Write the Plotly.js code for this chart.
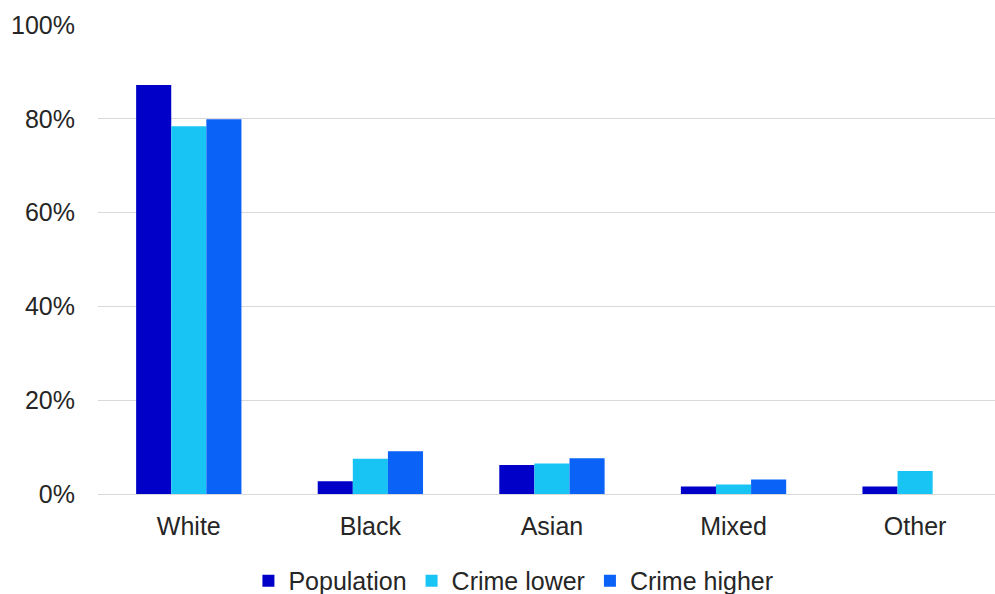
<!DOCTYPE html>
<html>
<head>
<meta charset="utf-8">
<script src="https://cdn.plot.ly/plotly-3.0.1.min.js"></script>
<style>html,body{margin:0;padding:0;background:#fff;}#chart{width:995px;height:594px;}</style>
</head>
<body>
<div id="chart"></div>
<script>
const categories = ["White", "Black", "Asian", "Mixed", "Other"];
const population = [87.2, 2.7, 6.2, 1.6, 1.6];
const crimeLower = [78.4, 7.5, 6.5, 2.0, 4.9];
const crimeHigher = [79.9, 9.1, 7.6, 3.1, 0];
const seriesNames = ["Population", "Crime lower", "Crime higher"];
const seriesColors = ["#0000c8", "#18c4f4", "#0a62f6"];
const yTicks = [0, 20, 40, 60, 80, 100];
const yTickLabels = ["0%", "20%", "40%", "60%", "80%", "100%"];

const values = [population, crimeLower, crimeHigher];
const traces = values.map((v, i) => ({
  type: "bar",
  name: seriesNames[i],
  x: categories,
  y: v,
  marker: {color: seriesColors[i], line: {width: 0}},
  hoverinfo: "x+y+name"
}));

const layout = {
  width: 995, height: 594,
  margin: {l: 98, r: 0, t: 25, b: 100, pad: 0},
  paper_bgcolor: "#ffffff",
  plot_bgcolor: "#ffffff",
  font: {family: "Liberation Sans, Arial, sans-serif", size: 25, color: "#262626"},
  barmode: "group",
  bargap: 0.42,
  bargroupgap: 0,
  showlegend: true,
  legend: {
    orientation: "h",
    xref: "container", yref: "container",
    x: 0.516, xanchor: "center",
    y: 0.022, yanchor: "middle",
    font: {size: 25, color: "#262626"},
    itemwidth: 30,
    tracegroupgap: 0
  },
  xaxis: {
    type: "category",
    range: [-0.5, 4.44],
    showgrid: false,
    showline: false,
    zeroline: false,
    ticks: "",
    ticklabelstandoff: 15,
    tickfont: {size: 25, color: "#262626"}
  },
  yaxis: {
    range: [0, 100],
    tickvals: yTicks,
    ticktext: yTickLabels,
    showgrid: true,
    gridcolor: "#d9d9d9",
    gridwidth: 1,
    zeroline: true,
    zerolinecolor: "#d9d9d9",
    zerolinewidth: 1,
    showline: false,
    ticks: "",
    ticklabelstandoff: 22,
    tickfont: {size: 25, color: "#262626"}
  }
};

Plotly.newPlot("chart", traces, layout, {displayModeBar: false, staticPlot: true});
</script>
</body>
</html>
